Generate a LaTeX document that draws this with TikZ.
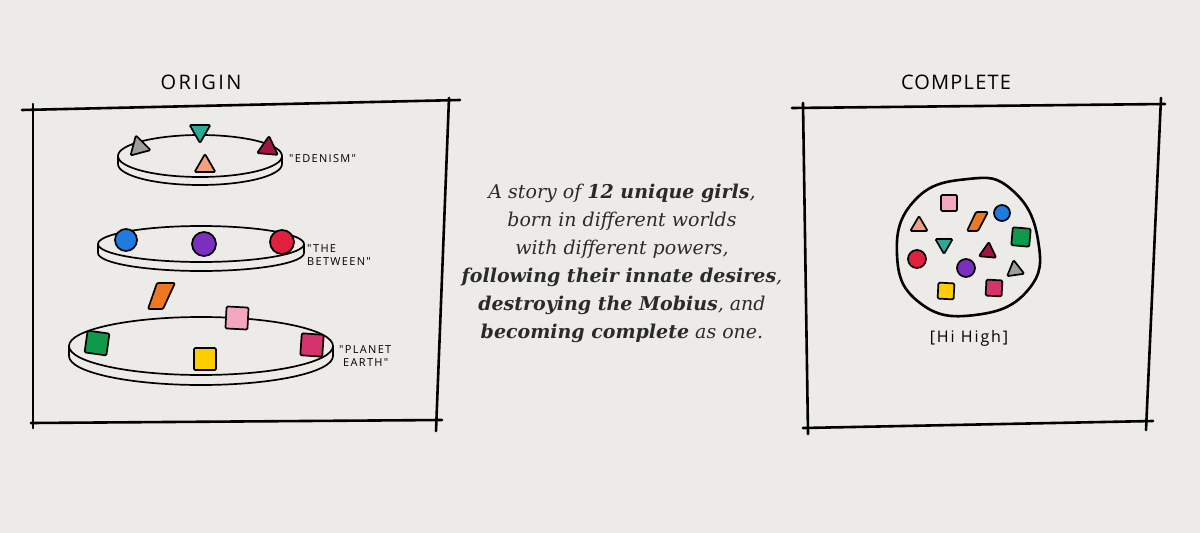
\documentclass[tikz,border=0pt]{standalone}
\usepackage{fontspec}
\setmainfont{DejaVu Serif}
\newfontfamily\handfont{Open Sans}
\newfontfamily\handwide[LetterSpace=12]{Open Sans}
\newfontfamily\handmid[LetterSpace=6]{Open Sans}
\definecolor{paper}{HTML}{EDEBE7}
\definecolor{storyink}{HTML}{2A2A2A}
\definecolor{cteal}{HTML}{2AAA95}
\definecolor{cgrey}{HTML}{9E9E9E}
\definecolor{ccrimson}{HTML}{A3163F}
\definecolor{csalmon}{HTML}{F4A07E}
\definecolor{cblue}{HTML}{1E7BE0}
\definecolor{cpurple}{HTML}{7B2FBF}
\definecolor{cred}{HTML}{E0203C}
\definecolor{corange}{HTML}{EE7722}
\definecolor{cgreen}{HTML}{0E9A48}
\definecolor{cpink}{HTML}{F4A6C0}
\definecolor{cyellow}{HTML}{FFCC00}
\definecolor{cmagenta}{HTML}{D6336C}
\newcommand\mydisk[5]{%
  \filldraw[disk] ({#1-#3},#2) -- ({#1-#3},{#2+#5}) arc[start angle=180,end angle=360,x radius=#3pt,y radius=#4pt] -- ({#1+#3},#2) -- cycle;
  \filldraw[disk] (#1,#2) ellipse[x radius=#3pt,y radius=#4pt];}
\newcommand\mytri[5]{\begin{scope}[shift={(#1,#2)},rotate=#4]\filldraw[piece,fill=#5] (90:#3pt) -- (210:#3pt) -- (330:#3pt) -- cycle;\end{scope}}
\newcommand\mysq[5]{\begin{scope}[shift={(#1,#2)},rotate=#4]\filldraw[piece,fill=#5] (-#3pt,-#3pt) -- (#3pt,-#3pt) -- (#3pt,#3pt) -- (-#3pt,#3pt) -- cycle;\end{scope}}
\newcommand\mydot[4]{\filldraw[piece,fill=#4] (#1,#2) circle[radius=#3pt];}
\begin{document}
\begin{tikzpicture}[x=1pt,y=-1pt,line join=round,line cap=round,
  boxline/.style={draw=black,line width=2.6pt},
  disk/.style={draw=black,line width=1.7pt,fill=paper},
  piece/.style={draw=black,line width=1.7pt,rounded corners=1.2pt},
  title/.style={font=\handmid\fontsize{20}{22}\selectfont,text=black},
  lab/.style={font=\handwide\fontsize{11}{13}\selectfont,text=black,inner sep=0pt},
  story/.style={font=\itshape\fontsize{19}{28}\selectfont,text=storyink,align=center}]
\fill[paper] (0,0) rectangle (1200,533);
\useasboundingbox (0,0) rectangle (1200,533);
% left frame
\draw[boxline] (22,110) -- (460,100);
\draw[boxline] (33,104) -- (33,428);
\draw[boxline] (449,98) -- (436,431);
\draw[boxline] (31,423) -- (442,420);
% right frame
\draw[boxline] (792,108) -- (1165,104);
\draw[boxline] (803,103) -- (808,434);
\draw[boxline] (1161,98) -- (1146,430);
\draw[boxline] (803,428) -- (1153,421);
% titles
\node[title,font=\handwide\fontsize{20}{22}\selectfont] (origin) at (201,82) {ORIGIN};
\node[title] (complete) at (956,82) {COMPLETE};
% Edenism disk
\mydisk{200}{156}{82}{21}{8}
\mytri{200}{131}{12}{180}{cteal}
\mytri{139}{147}{12}{15}{cgrey}
\mytri{268}{148}{12}{-5}{ccrimson}
\mytri{205}{166}{12}{0}{csalmon}
\node[lab,anchor=west] (eden) at (289,159) {"EDENISM"};
% Between disk
\mydisk{201}{244}{103}{18}{9}
\mydot{126}{240}{11}{cblue}
\mydot{204}{244}{12}{cpurple}
\mydot{282}{242}{12}{cred}
\node[lab,anchor=west,align=left] (between) at (307,255) {"THE\\ BETWEEN"};
% orange piece
\filldraw[piece,fill=corange] (157,283) -- (175,283) -- (163,309) -- (148,309) -- cycle;
% Earth disk
\mydisk{201}{346}{132}{29}{10}
\mysq{97}{343}{11}{-8}{cgreen}
\mysq{237}{318}{11}{-3}{cpink}
\mysq{205}{359}{11}{0}{cyellow}
\mysq{312}{345}{11}{-4}{cmagenta}
\node[lab,anchor=west,align=left] (earth) at (339,356) {"PLANET\\ \hspace{4pt}EARTH"};
% story
\node[story] (storytext) at (622,263) {A story of \textbf{12 unique girls},\\
born in different worlds\\
with different powers,\\
\textbf{following their innate desires},\\
\textbf{destroying the Mobius}, and\\
\textbf{becoming complete} as one.};
% complete blob
\draw[draw=black,line width=2.6pt,fill=paper] plot[smooth cycle,tension=0.8] coordinates {(968,179) (1012,190) (1038,240) (1028,290) (975,315) (920,303) (897,255) (915,200)};
\mysq{949}{203}{8}{0}{cpink}
\mydot{1002}{213}{8}{cblue}
\filldraw[piece,fill=corange] (976,212) -- (988,212) -- (978,231) -- (967,231) -- cycle;
\mytri{919}{226}{10}{0}{csalmon}
\mysq{1021}{237}{9}{-5}{cgreen}
\mytri{944}{244}{10}{180}{cteal}
\mytri{988}{252}{10}{-5}{ccrimson}
\mydot{917}{259}{9}{cred}
\mydot{966}{268}{9}{cpurple}
\mytri{1015}{270}{10}{8}{cgrey}
\mysq{946}{291}{8}{-3}{cyellow}
\mysq{994}{288}{8}{-3}{cmagenta}
\node[font=\handwide\fontsize{16}{18}\selectfont] (hihigh) at (969,338) {[Hi High]};
\end{tikzpicture}
\end{document}
